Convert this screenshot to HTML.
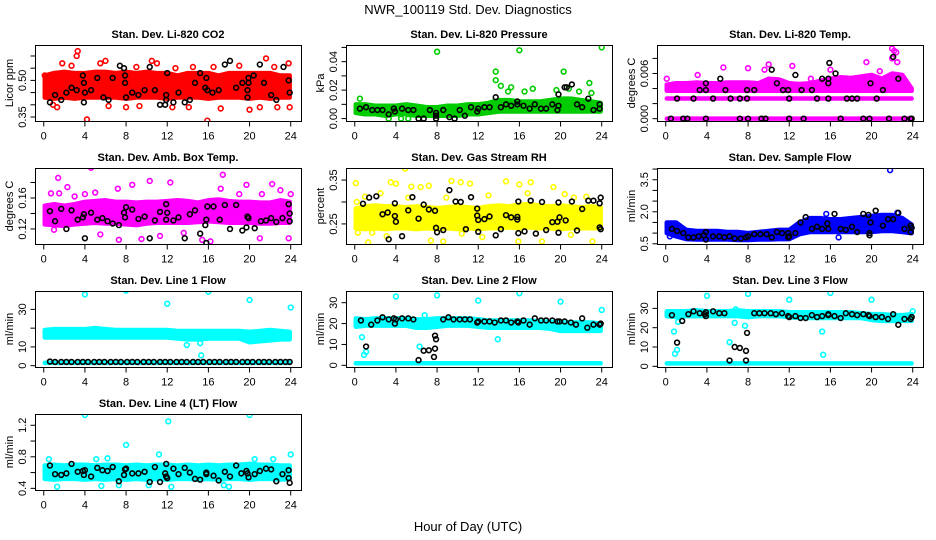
<!DOCTYPE html>
<html><head><meta charset="utf-8"><style>
html,body{margin:0;padding:0;background:#fff}
svg{display:block;font-family:"Liberation Sans",sans-serif}
</style></head><body>
<svg id="chart" width="936" height="540" viewBox="0 0 936 540">
<rect width="936" height="540" fill="#fff"/>
<text x="468" y="14" font-size="13" text-anchor="middle">NWR_100119  Std. Dev. Diagnostics</text>
<text x="468" y="531" font-size="13" text-anchor="middle">Hour of Day (UTC)</text>
</svg>
<script>
const bandHours=[0.1,1,2,3,4,5,6,7,8,9,10,11,12,13,14,15,16,17,18,19,20,21,22,23,23.9];
const xTicks=[0,4,8,12,16,20,24];

const co2Lo=[0.43,0.425,0.43,0.425,0.43,0.43,0.43,0.43,0.425,0.43,0.43,0.43,0.425,0.43,0.43,0.43,0.425,0.43,0.43,0.43,0.425,0.43,0.425,0.43,0.43];
const co2Hi=[0.52,0.53,0.535,0.53,0.53,0.535,0.535,0.53,0.535,0.53,0.535,0.53,0.53,0.52,0.53,0.53,0.53,0.52,0.53,0.53,0.53,0.53,0.53,0.52,0.52];
const co2Out=[[3.3,0.62],[3.2,0.60],[4.2,0.34],[15.9,0.335],[21.6,0.59],[10.5,0.58],[23.8,0.57],[20,0.38],[21,0.39],[8,0.39],[14.1,0.39],[1.3,0.39],[0.1,0.52],[1.8,0.57],[2.7,0.56],[5.5,0.57],[6,0.58],[9,0.555],[11,0.57],[12.8,0.55],[14.5,0.555],[16.5,0.555],[19,0.56],[22.4,0.555],[0.9,0.40],[6.3,0.395],[9.3,0.395],[12.5,0.39],[17.2,0.385],[22.7,0.39],[23.9,0.39]];
const co2Blk=[[0.6,0.41],[1.1,0.44],[1.7,0.42],[2.2,0.45],[2.7,0.47],[3.2,0.46],[3.8,0.52],[3.9,0.49],[4,0.45],[3.9,0.41],[4.6,0.46],[5.2,0.51],[5.8,0.43],[6.3,0.42],[6.7,0.51],[7.4,0.56],[7.8,0.55],[7.9,0.52],[7.9,0.49],[8,0.43],[8.6,0.45],[9.2,0.44],[9.8,0.46],[10.3,0.555],[10.8,0.46],[11.3,0.40],[11.8,0.40],[11.9,0.42],[12,0.53],[11.9,0.44],[12.6,0.41],[13.1,0.45],[13.7,0.41],[14.2,0.42],[14.7,0.49],[15.2,0.53],[15.7,0.47],[15.8,0.51],[15.9,0.46],[16.4,0.45],[17,0.46],[17.6,0.565],[18.1,0.58],[18.7,0.47],[19.3,0.49],[19.8,0.43],[19.8,0.46],[19.9,0.51],[19.9,0.49],[20.4,0.52],[21,0.565],[21.4,0.49],[22.1,0.44],[22.6,0.42],[23.3,0.555],[23.8,0.50],[23.9,0.45]];

const presLo=[0.004,0.003,0.003,0.002,0.003,0.003,0.002,0.002,0.002,0.002,0.002,0.003,0.003,0.004,0.005,0.005,0.005,0.005,0.005,0.005,0.005,0.005,0.005,0.005,0.005];
const presHi=[0.010,0.010,0.009,0.009,0.009,0.010,0.009,0.008,0.008,0.009,0.009,0.010,0.010,0.011,0.013,0.013,0.012,0.012,0.012,0.013,0.014,0.014,0.013,0.012,0.011];
const presOut=[[8,0.047],[16,0.048],[24,0.050],[13.7,0.033],[13.7,0.027],[20.3,0.033],[22.8,0.025],[14.2,0.023],[15.2,0.022],[17.3,0.021],[14.9,0.019],[16.5,0.019],[21.8,0.019],[19.6,0.020],[23,0.018],[20.8,0.021],[4.5,0],[5.2,0],[3.3,0],[0.5,0.014]];
const presBlk=[[0.5,0.007],[1.1,0.008],[1.7,0.006],[2.2,0.006],[2.7,0.006],[3.3,0.003],[3.8,0.007],[3.9,0.005],[4.6,0.007],[5.2,0.006],[5.7,0.006],[6.2,0],[6.7,0],[7.3,0.006],[7.9,0.004],[7.9,0.002],[7.9,0],[8.6,0.006],[9.2,0.001],[9.7,0],[10.2,0.006],[10.7,0.002],[11.3,0.008],[11.9,0.005],[12,0.007],[12.6,0.008],[13.1,0.008],[13.7,0.015],[14.2,0.008],[14.7,0.010],[15.2,0.009],[15.8,0.012],[15.8,0.010],[16.4,0.009],[17,0.007],[17.5,0.010],[18.1,0.007],[18.6,0.007],[19.2,0.010],[19.7,0.006],[19.8,0.009],[19.8,0.017],[20.4,0.022],[20.6,0.022],[21.1,0.024],[21.6,0.010],[22.1,0.008],[22.7,0.014],[23.2,0.006],[23.8,0.007],[23.8,0.010]];

const tempLevel0=[0,0,0,0,0,0,0,0,0,0,0,0,0,0,0,0,0,0,0,0,0,0,0,0,0];
const tempLevel1=[0.00267,0.00267,0.00267,0.00267,0.00267,0.00267,0.00267,0.00267,0.00267,0.00267,0.00267,0.00267,0.00267,0.00267,0.00267,0.00267,0.00267,0.00267,0.00267,0.00267,0.00267,0.00267,0.00267,0.00267,0.00267];
const tempLo=[0.0037,0.0037,0.0037,0.0037,0.0037,0.0037,0.0037,0.0037,0.0037,0.0037,0.0037,0.0037,0.0037,0.0037,0.0037,0.0037,0.0037,0.0037,0.0037,0.0037,0.0037,0.0037,0.0037,0.0037,0.0037];
const tempHi=[0.0045,0.0047,0.0047,0.0048,0.0047,0.0047,0.0048,0.0048,0.0048,0.0047,0.0053,0.0052,0.0047,0.0046,0.0047,0.0050,0.0053,0.0055,0.0054,0.0056,0.0058,0.0053,0.0060,0.0058,0.0040];
const tempOut=[[22,0.0093],[22.2,0.009],[22.4,0.0088],[22,0.008],[22.5,0.0075],[16,0.0065],[12.3,0.007],[5.6,0.0068],[8,0.0067],[10,0.0072],[19.5,0.0075],[20.8,0.0063],[9.6,0.0065],[3.1,0.0058],[14.1,0.0053],[0.1,0.0053],[22.8,0.0053]];
const tempBlk=[[0.5,0],[1.7,0],[2.1,0],[3.9,0],[7.2,0],[8,0],[9.3,0],[9.7,0],[12,0],[13.4,0],[17,0],[19.2,0],[19.8,0],[21.7,0],[23.2,0],[23.8,0],[23.9,0],[1.1,0.00267],[2.7,0.00267],[4.6,0.00267],[6.3,0.00267],[7.2,0.00267],[7.9,0.00267],[12,0.00267],[14.7,0.00267],[15.8,0.00267],[17.6,0.00267],[18.1,0.00267],[18.6,0.00267],[20.5,0.00267],[3.3,0.0038],[3.9,0.0038],[5.8,0.0038],[7.9,0.0038],[8.6,0.0038],[11.4,0.0038],[11.9,0.0038],[13.2,0.0038],[14.2,0.0038],[21.1,0.0038],[3.9,0.0047],[5.3,0.0053],[10.3,0.0065],[10.8,0.0047],[12.6,0.0058],[15.2,0.0053],[15.8,0.0047],[15.8,0.0053],[15.9,0.0074],[16.5,0.006],[19.9,0.0047],[22.1,0.0082],[22.6,0.0053]];

const ambLo=[0.126,0.125,0.124,0.126,0.127,0.128,0.127,0.127,0.126,0.125,0.127,0.128,0.128,0.128,0.128,0.129,0.130,0.129,0.128,0.128,0.128,0.127,0.127,0.128,0.128];
const ambHi=[0.150,0.152,0.150,0.152,0.155,0.156,0.157,0.155,0.155,0.154,0.155,0.155,0.156,0.157,0.156,0.154,0.157,0.158,0.156,0.155,0.155,0.154,0.154,0.157,0.155];
const ambOut=[[1.4,0.186],[4.6,0.199],[12.3,0.180],[17.4,0.190],[19.7,0.177],[22.2,0.178],[8.6,0.177],[10.3,0.182],[0.7,0.166],[1.5,0.166],[2.3,0.174],[7.2,0.172],[15.4,0.106],[7.3,0.106],[9.5,0.107],[23.8,0.108],[1,0.119],[5.5,0.113],[21,0.108],[13.6,0.115],[11.3,0.111],[16.2,0.104],[3,0.162],[4,0.165],[5,0.167],[17.2,0.172],[19,0.165],[21.2,0.165],[24,0.165],[23,0.170]];
const ambBlk=[[0.6,0.143],[1.1,0.130],[1.7,0.146],[2.2,0.120],[2.7,0.144],[3.3,0.132],[3.8,0.135],[3.9,0.139],[4,0.108],[4.6,0.141],[5.2,0.132],[5.7,0.134],[6.2,0.130],[6.7,0.127],[7.3,0.125],[7.8,0.141],[7.9,0.135],[8,0.148],[8.6,0.145],[9.2,0.133],[9.8,0.136],[10.3,0.108],[10.8,0.131],[11.3,0.142],[11.9,0.132],[11.9,0.152],[12,0.141],[12.6,0.131],[13.1,0.135],[13.7,0.108],[14.2,0.139],[14.7,0.144],[15.2,0.114],[15.7,0.125],[15.8,0.132],[15.8,0.102],[15.9,0.149],[16.5,0.149],[17.1,0.132],[17.6,0.151],[18.1,0.120],[18.7,0.151],[19.3,0.118],[19.7,0.122],[19.8,0.136],[19.9,0.134],[20.5,0.121],[21.1,0.130],[21.6,0.131],[22.1,0.134],[22.6,0.129],[23.2,0.134],[23.8,0.152],[23.9,0.140],[23.9,0.130]];

const rhLo=[0.240,0.238,0.240,0.238,0.240,0.240,0.238,0.240,0.238,0.240,0.238,0.240,0.238,0.240,0.240,0.242,0.240,0.242,0.240,0.240,0.238,0.240,0.240,0.240,0.240];
const rhHi=[0.285,0.290,0.292,0.290,0.290,0.288,0.290,0.288,0.286,0.288,0.290,0.288,0.286,0.290,0.292,0.290,0.294,0.295,0.292,0.290,0.292,0.290,0.288,0.290,0.288];
const rhOut=[[0.1,0.343],[4.9,0.376],[3.5,0.345],[4,0.342],[9.4,0.348],[10.3,0.345],[11.2,0.342],[14.7,0.347],[16,0.340],[17.1,0.345],[19.3,0.334],[6.4,0.334],[7.2,0.337],[5.5,0.335],[1.3,0.208],[7.4,0.212],[8.6,0.21],[15.9,0.21],[18.2,0.21],[23.1,0.21],[12.4,0.22],[3.1,0.222],[0.3,0.23],[1.7,0.23],[10.4,0.228],[21,0.225],[2.5,0.32],[1,0.312],[8.9,0.31],[13,0.315],[16.8,0.32],[20.4,0.318],[21.3,0.31],[22.5,0.312],[5.2,0.31],[0.2,0.30]];
const rhBlk=[[0.8,0.296],[1.4,0.310],[2.1,0.313],[2.7,0.272],[3.2,0.276],[3.3,0.215],[3.9,0.297],[3.9,0.268],[4,0.255],[4.6,0.222],[5.2,0.281],[5.6,0.311],[6.2,0.262],[6.7,0.294],[7.2,0.283],[7.8,0.28],[7.9,0.241],[8,0.231],[8.6,0.236],[9.2,0.327],[9.8,0.301],[10.3,0.300],[10.8,0.238],[11.3,0.311],[11.9,0.285],[11.9,0.269],[12,0.259],[12,0.232],[12.6,0.261],[13.1,0.267],[13.7,0.224],[14.2,0.238],[14.7,0.270],[15.2,0.265],[15.8,0.266],[15.8,0.260],[15.9,0.301],[15.9,0.229],[16.5,0.233],[17.1,0.303],[17.6,0.228],[18.2,0.300],[18.6,0.236],[19.2,0.254],[19.7,0.255],[19.8,0.230],[19.8,0.299],[19.9,0.265],[20.5,0.258],[21.1,0.301],[21.6,0.235],[22.1,0.284],[22.7,0.303],[23.2,0.303],[23.8,0.297],[23.9,0.310],[23.9,0.238],[23.8,0.242]];

const flowLo=[1.0,0.85,0.72,0.7,0.7,0.7,0.7,0.68,0.68,0.7,0.7,0.72,0.72,0.95,1.05,1.05,1.05,1.05,1.05,1.05,1.05,1.1,1.1,1.05,1.0];
const flowHi=[1.5,1.5,1.15,1.1,1.1,1.1,1.05,1.05,1.0,1.05,1.1,1.15,1.15,1.5,1.7,1.7,1.65,1.65,1.7,1.75,1.8,1.85,1.85,1.7,1.4];
const flowOut=[[21.8,3.95],[0.4,0.85],[16.8,0.8],[0.2,1.3],[22.5,1.95],[15.6,1.9]];
const flowBlk=[[0.6,1.2],[1.1,1.1],[1.7,1.0],[2.2,0.8],[2.7,0.8],[3.2,0.85],[3.7,0.9],[3.9,1.05],[3.9,0.7],[4.6,0.85],[5.2,0.85],[5.7,0.8],[6.2,0.85],[6.7,0.75],[7.3,0.75],[7.8,0.8],[8,0.85],[8.6,0.95],[9.2,0.95],[9.8,0.95],[10.3,0.8],[10.8,1.05],[11.3,1.0],[11.9,0.8],[11.9,1.0],[12,0.85],[12.6,1.0],[13.1,1.5],[13.6,1.75],[14.2,1.2],[14.7,1.3],[15.2,1.2],[15.7,1.45],[15.8,1.2],[16.4,1.9],[17,1.2],[17.5,1.15],[18.1,1.3],[18.6,1.05],[19.2,1.9],[19.7,1.85],[19.8,1.0],[19.8,0.9],[19.9,1.5],[20.4,2.05],[21.1,1.35],[21.6,1.65],[22.1,1.65],[22.6,1.95],[23.2,1.2],[23.8,1.35],[23.8,1.05],[23.9,1.25]];

const l1Base=[1.5,1.5,1.5,1.5,1.5,1.5,1.5,1.5,1.5,1.5,1.5,1.5,1.5,1.5,1.5,1.5,1.5,1.5,1.5,1.5,1.5,1.5,1.5,1.5,1.5];
const l1Lo=[15,15,15,15,15,15,15,15,15,15,15,15,15,14.5,14,14,14.5,14.5,14.5,14.5,12.5,13,13.5,14,14];
const l1Hi=[19,19.5,19.5,19.5,19.5,20,19.5,19,19,19,19,19,19,18.5,18.5,18.5,18.5,18.5,18.5,18.5,18,18.5,19,18.5,18];
const l1Out=[[4,38],[8,40],[12,33],[16,39.5],[20,35],[24,31],[13.7,17],[13.9,11],[15.3,5.5],[15.2,12]];
const l1BlkX=[0.6,1.1,1.7,2.2,2.7,3.3,3.8,4.3,4.9,5.4,5.9,6.5,7,7.5,8.1,8.6,9.1,9.7,10.2,10.7,11.3,11.8,12.3,12.9,13.4,13.9,14.5,15,15.5,16.1,16.6,17.1,17.7,18.2,18.7,19.3,19.8,20.3,20.9,21.4,21.9,22.5,23,23.5,23.9];
const l1BlkY=[2.2,2,2,2,2,2,2,2,2,2,2,2,2,2,2,2,2,2,2,2,2,2,2,2,2,2,2,2,2,2,2,2,2,2,2,2,2,2,2,2,2,2,2,2,2];

const l2Base=[1,1,1,1,1,1,1,1,1,1,1,1,1,1,1,1,1,1,1,1,1,1,1,1,1];
const l2Lo=[18.5,19,19,19,19,19,18,18,18.5,19,19,19,18.5,18,18,18,18,18,18,17.5,16.5,16.5,16.5,16.5,16.5];
const l2Hi=[22.5,22,22.5,22.5,22.5,22.5,22,22,22.5,22.5,22.5,22.5,22,21.5,21.5,21.5,21.5,21.5,21,21,20.5,20.5,20.5,20.5,20];
const l2Out=[[4,33],[8,33.5],[12,31],[16,34.5],[20,30.5],[24,26.5],[0.7,13.5],[0.9,5],[1.1,6.5],[6.3,9],[6.8,24],[13.9,12.5]];
const l2Blk=[[0.6,21.5],[1.1,9],[1.6,19.5],[2.2,21.5],[2.7,23],[3.3,22],[3.8,22.5],[3.9,20],[4,22],[4.6,22.5],[5.2,22.5],[5.7,22],[6.2,2.5],[6.7,7],[7.2,7.2],[7.7,4],[7.8,8],[7.8,14.2],[7.9,12.5],[8.6,22],[9.1,23],[9.6,22],[10.2,22],[10.7,22],[11.2,22],[11.9,20.5],[12,21],[12.6,21],[13.1,21],[13.6,20.5],[14.2,21.5],[14.7,21.5],[15.2,20.5],[15.8,21],[15.9,20.5],[16.4,21.5],[17,19.5],[17.5,22.5],[18.1,21.5],[18.6,21.5],[19.2,21.5],[19.7,21],[19.9,21],[20.4,21],[21,20.5],[21.5,19.5],[22.1,22.5],[22.6,18],[23.2,19.5],[23.8,19.5],[23.9,20]];

const l3Base=[1.5,1.5,1.5,1.5,1.5,1.5,1.5,1.5,1.5,1.5,1.5,1.5,1.5,1.5,1.5,1.5,1.5,1.5,1.5,1.5,1.5,1.5,1.5,1.5,1.5];
const l3Lo=[26,25.5,26,26,26,26,26,26,25.5,26,26,26,25.5,25,25,25,25,25,25,25,24,23.5,23.5,23.5,23.5];
const l3Hi=[28.5,28.5,28.5,29,28.5,28.5,28.5,29,28.5,28.5,28.5,28.5,28,28,28,28,28,28,28,27.5,27,27,26.5,26.5,27];
const l3Out=[[4,36.5],[8,37.5],[12,34.5],[16,38],[20,34.5],[24,28.5],[0.8,18],[0.9,6.5],[1.1,8.5],[1.2,23],[6.2,12.5],[6.7,22.5],[7.7,21],[15.2,18],[15.3,6],[6.8,29.5]];
const l3Blk=[[0.6,26.5],[1.1,12.3],[1.6,23.5],[2.2,27],[2.7,28.5],[3.3,27.5],[3.8,27],[3.9,28],[3.9,26],[4.6,28.5],[5.2,27.5],[5.7,27.5],[6.2,3],[6.7,10],[7.2,9.5],[7.8,8],[7.8,3],[7.9,17.3],[8.6,27.5],[9.1,27.5],[9.6,27.5],[10.2,27.5],[10.7,27],[11.3,27.5],[11.9,26],[12,25.5],[12.6,26],[13.1,25],[13.6,25],[14.2,26.5],[14.7,25.5],[15.2,26],[15.8,26.5],[15.8,27],[16.4,26],[17,25],[17.5,27.5],[18.1,27],[18.6,26.5],[19.2,27],[19.7,26.5],[19.8,26],[20.4,25.5],[21,25.5],[21.6,24.5],[22.1,27],[22.6,21.5],[23.2,24.5],[23.8,24.5],[23.9,25.5]];

const l4Lo=[0.52,0.51,0.52,0.52,0.51,0.52,0.51,0.52,0.51,0.52,0.51,0.52,0.51,0.52,0.52,0.51,0.52,0.51,0.52,0.52,0.51,0.52,0.52,0.51,0.52];
const l4Hi=[0.69,0.70,0.69,0.70,0.70,0.69,0.70,0.70,0.69,0.70,0.69,0.70,0.70,0.69,0.70,0.69,0.70,0.69,0.70,0.70,0.71,0.70,0.70,0.69,0.69];
const l4Out=[[4,1.33],[20,1.33],[12.1,1.25],[8,0.95],[11.2,0.83],[24,0.83],[6.2,0.78],[5.1,0.77],[0.5,0.77],[20.5,0.77],[22.3,0.77],[1.3,0.42],[5.6,0.43],[12.4,0.42],[18,0.42],[10.2,0.44],[7.3,0.44],[17.5,0.44]];
const l4Blk=[[0.6,0.69],[1.1,0.58],[1.7,0.57],[2.2,0.59],[2.7,0.71],[3.3,0.61],[3.8,0.62],[3.9,0.57],[4,0.63],[4.6,0.55],[5.2,0.66],[5.7,0.63],[6.2,0.62],[6.7,0.67],[7.3,0.49],[7.8,0.57],[7.9,0.64],[8,0.65],[8.6,0.59],[9.2,0.59],[9.8,0.61],[10.3,0.48],[10.8,0.67],[11.3,0.48],[11.8,0.59],[11.9,0.55],[11.9,0.71],[12,0.53],[12.6,0.65],[13.1,0.58],[13.7,0.66],[14.2,0.6],[14.7,0.52],[15.2,0.51],[15.8,0.6],[15.8,0.58],[16.5,0.56],[17,0.5],[17.6,0.61],[18.1,0.55],[18.7,0.69],[19.2,0.59],[19.7,0.62],[19.8,0.59],[19.9,0.54],[20.5,0.58],[21,0.62],[21.6,0.65],[22.1,0.64],[22.6,0.49],[23.2,0.58],[23.8,0.63],[23.8,0.53],[23.9,0.47]];

const colLeft=[35,346,657], rowTop=[45,168,291,414], boxW=266, boxH=76, xlim=[-0.85,25.0];
const panels=[
 {key:'co2',title:'Stan. Dev. Li-820 CO2',ylab:'Licor ppm',r:0,c:0,ylim:[0.3336,0.645],ticks:[0.35,0.40,0.45,0.50,0.55,0.60],labels:['0.35','','','0.50','',''],color:'#ff0000',bands:[[co2Lo,co2Hi]],out:co2Out,blk:co2Blk},
 {key:'pressure',title:'Stan. Dev. Li-820 Pressure',ylab:'kPa',r:0,c:1,ylim:[-0.0017,0.0517],ticks:[0,0.01,0.02,0.03,0.04,0.05],labels:['0.00','','0.02','','0.04',''],color:'#00cc00',bands:[[presLo,presHi]],out:presOut,blk:presBlk},
 {key:'temp',title:'Stan. Dev. Li-820 Temp.',ylab:'degrees C',r:0,c:2,ylim:[-0.00031,0.00978],ticks:[0,0.002,0.004,0.006,0.008],labels:['0.000','','','0.006',''],color:'#ff00ff',bands:[[tempLevel0,tempLevel0],[tempLevel1,tempLevel1],[tempLo,tempHi]],out:tempOut,blk:tempBlk},
 {key:'ambbox',title:'Stan. Dev. Amb. Box Temp.',ylab:'degrees C',r:1,c:0,ylim:[0.1006,0.1987],ticks:[0.12,0.14,0.16,0.18],labels:['0.12','','0.16',''],color:'#ff00ff',bands:[[ambLo,ambHi]],out:ambOut,blk:ambBlk},
 {key:'rh',title:'Stan. Dev. Gas Stream RH',ylab:'percent',r:1,c:1,ylim:[0.2042,0.3775],ticks:[0.25,0.30,0.35],labels:['0.25','','0.35'],color:'#ffff00',bands:[[rhLo,rhHi]],out:rhOut,blk:rhBlk},
 {key:'sampleflow',title:'Stan. Dev. Sample Flow',ylab:'ml/min',r:1,c:2,ylim:[0.49,4.05],ticks:[0.5,1,1.5,2,2.5,3,3.5,4],labels:['0.5','','','2.0','','','3.5',''],color:'#0000ff',bands:[[flowLo,flowHi]],out:flowOut,blk:flowBlk},
 {key:'line1',title:'Stan. Dev. Line 1 Flow',ylab:'ml/min',r:2,c:0,ylim:[-0.7,39.8],ticks:[0,10,20,30],labels:['0','10','','30'],color:'#00ffff',bands:[[l1Base,l1Base],[l1Lo,l1Hi]],out:l1Out,blk:l1BlkX.map((x,i)=>[x,l1BlkY[i]])},
 {key:'line2',title:'Stan. Dev. Line 2 Flow',ylab:'ml/min',r:2,c:1,ylim:[-0.8,35.6],ticks:[0,10,20,30],labels:['0','10','20','30'],color:'#00ffff',bands:[[l2Base,l2Base],[l2Lo,l2Hi]],out:l2Out,blk:l2Blk},
 {key:'line3',title:'Stan. Dev. Line 3 Flow',ylab:'ml/min',r:2,c:2,ylim:[-0.35,39],ticks:[0,10,20,30],labels:['0','10','20','30'],color:'#00ffff',bands:[[l3Base,l3Base],[l3Lo,l3Hi]],out:l3Out,blk:l3Blk},
 {key:'line4',title:'Stan. Dev. Line 4 (LT) Flow',ylab:'ml/min',r:3,c:0,ylim:[0.379,1.343],ticks:[0.4,0.6,0.8,1.0,1.2],labels:['0.4','','0.8','','1.2'],color:'#00ffff',bands:[[l4Lo,l4Hi]],out:l4Out,blk:l4Blk}
];

const NS='http://www.w3.org/2000/svg';
const svg=document.getElementById('chart');
function mk(tag,attrs,parent){const e=document.createElementNS(NS,tag);for(const k in attrs)e.setAttribute(k,attrs[k]);parent.appendChild(e);return e;}

panels.forEach(p=>{
  const L=colLeft[p.c], T=rowTop[p.r];
  const sx=v=>L+(v-xlim[0])/(xlim[1]-xlim[0])*boxW;
  const sy=v=>T+boxH-(v-p.ylim[0])/(p.ylim[1]-p.ylim[0])*boxH;
  const g=mk('g',{},svg);
  
  
  const clipId='clip-'+p.key;
  const cp=mk('clipPath',{id:clipId},g);
  mk('rect',{x:L,y:T,width:boxW,height:boxH},cp);
  const plot=mk('g',{'clip-path':'url(#'+clipId+')'},g);
  
  
  p.bands.forEach(b=>{
    const lo=b[0],hi=b[1];
    let pts=bandHours.map((h,i)=>sx(h)+','+sy(lo[i]));
    pts=pts.concat(bandHours.map((h,i)=>sx(h)+','+sy(hi[i])).reverse());
    const poly=mk('polygon',{points:pts.join(' '),fill:p.color,stroke:p.color,'stroke-width':4.5,'stroke-linejoin':'round'},plot);
    
    
  });
  p.out.forEach(d=>{
    const c=mk('circle',{cx:sx(d[0]),cy:sy(d[1]),r:2.4,fill:'none',stroke:p.color,'stroke-width':1.6},plot);
    
    
  });
  p.blk.forEach(d=>{
    const c=mk('circle',{cx:sx(d[0]),cy:sy(d[1]),r:2.4,fill:'none',stroke:'#000','stroke-width':1.6},plot);
    
    
  });
  const box=mk('rect',{x:L+0.5,y:T+0.5,width:boxW,height:boxH,fill:'none',stroke:'#000','stroke-width':1},g);
  
  
  const t=mk('text',{x:L+boxW/2,y:T-7,'font-size':11,'font-weight':'bold','text-anchor':'middle'},g);
  t.textContent=p.title;
  
  
  const xa=mk('g',{},g);
  
  
  const yb=T+boxH+0.5;
  mk('line',{x1:sx(xTicks[0]),x2:sx(xTicks[xTicks.length-1]),y1:yb,y2:yb,stroke:'#000'},xa);
  xTicks.forEach(v=>{
    mk('line',{x1:sx(v),x2:sx(v),y1:yb,y2:yb+5,stroke:'#000'},xa);
    const tl=mk('text',{x:sx(v),y:yb+18,'font-size':11,'text-anchor':'middle'},xa);
    tl.textContent=String(v);
    
    
  });
  const ya=mk('g',{},g);
  
  
  const xl=L+0.5;
  mk('line',{x1:xl,x2:xl,y1:sy(p.ticks[0]),y2:sy(p.ticks[p.ticks.length-1]),stroke:'#000'},ya);
  p.ticks.forEach((v,i)=>{
    mk('line',{x1:xl-5,x2:xl,y1:sy(v),y2:sy(v),stroke:'#000'},ya);
    if(p.labels[i]){
      const tl=mk('text',{x:0,y:0,'font-size':11,'text-anchor':'middle',transform:'translate('+(L-9)+','+sy(v)+') rotate(-90)'},ya);
      tl.textContent=p.labels[i];
      
      
    }
  });
  const yt=mk('text',{x:0,y:0,'font-size':11,'text-anchor':'middle',transform:'translate('+(L-22)+','+(T+boxH/2)+') rotate(-90)'},ya);
  yt.textContent=p.ylab;
  
  
});
</script>
</body></html>
